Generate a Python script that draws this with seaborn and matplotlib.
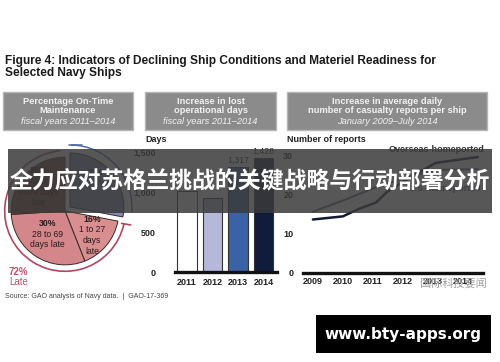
import numpy as np
import pandas as pd
import seaborn as sns
import matplotlib.pyplot as plt
from matplotlib.patches import Rectangle, Arc

# Pie: share of maintenance periods (clockwise from top)
pie_names = ['28%\nOn time', '16%\n1 to 27\ndays\nlate', '30%\n28 to 69\ndays late', '26%\n70 or\nmore days\nlate']
pie_pcts = [28, 16, 30, 26]
pie_colors = ['#7f8db3', '#d98f8f', '#d4878a', '#7b3b3b']

# Bars: lost operational days
bar_years = ['2011', '2012', '2013', '2014']
lost_days = [1010, 925, 1317, 1428]
bar_colors = ['#ffffff', '#b5b8d8', '#3b62a6', '#111c3d']

# Lines: average daily casualty reports per ship
overseas_x = [2009.0, 2010.0, 2010.5, 2011.1, 2011.5, 2012.3, 2013.1, 2014.5]
overseas_y = [13.6, 14.4, 16.2, 17.9, 20.8, 24.6, 28.0, 29.5]
us_x = [2009.0, 2010.1, 2011.1, 2012.2, 2013.1, 2014.5]
us_y = [15.6, 18.7, 21.8, 24.5, 26.2, 26.4]
line_years = [2009, 2010, 2011, 2012, 2013, 2014]

W, H = 500, 362
sns.set_theme(style='white')
plt.rcParams['font.family'] = ['Liberation Sans', 'Noto Sans CJK SC', 'DejaVu Sans']

fig = plt.figure(figsize=(W / 100, H / 100), dpi=100)
fig.patch.set_facecolor('white')


def px_axes(left, top, right, bottom):
    return fig.add_axes([left / W, 1 - bottom / H, (right - left) / W, (bottom - top) / H])


def ftext(x, y, s, **kw):
    return fig.text(x / W, 1 - y / H, s, **kw)


# title
ftext(5, 61, 'Figure 4: Indicators of Declining Ship Conditions and Materiel Readiness for',
      fontsize=8.6, fontweight='bold', color='#1a1a1a', va='center')
ftext(5, 73, 'Selected Navy Ships', fontsize=8.6, fontweight='bold', color='#1a1a1a', va='center')

# header boxes
headers = [
    (3, 133, 'Percentage On-Time', 'Maintenance', 'fiscal years 2011\u20132014'),
    (145, 276, 'Increase in lost', 'operational days', 'fiscal years 2011\u20132014'),
    (287, 487, 'Increase in average daily', 'number of casualty reports per ship', 'January 2009\u2013July 2014'),
]
for x0, x1, l1, l2, l3 in headers:
    fig.add_artist(Rectangle((x0 / W, 1 - 130 / H), (x1 - x0) / W, 38 / H, transform=fig.transFigure,
                             facecolor='#8b8b8b', edgecolor='#b5b5b5', lw=1))
    xc = (x0 + x1) / 2
    ftext(xc, 101, l1, fontsize=6.7, fontweight='bold', color='#f2f2f2', ha='center', va='center')
    ftext(xc, 111, l2, fontsize=6.7, fontweight='bold', color='#f2f2f2', ha='center', va='center')
    ftext(xc, 121, l3, fontsize=6.7, style='italic', color='#f2f2f2', ha='center', va='center')

# ---- pie ----
cx, cy, rp = 65, 211, 70
ax1 = px_axes(cx - rp, cy - rp, cx + rp, cy + rp)
ax1.pie(pie_pcts, colors=pie_colors, startangle=90, counterclock=False,
        explode=[0.12, 0, 0, 0], radius=1,
        wedgeprops=dict(edgecolor='#3a2a2a', linewidth=0.7))
ax1.set_xlim(-1.3, 1.3)
ax1.set_ylim(-1.3, 1.3)
ax1.set_aspect('equal')
ax1.axis('off')
ax1.add_patch(Arc((0, 0), 2.24, 2.24, theta1=95, theta2=348, color='#b4455e', lw=1.2, clip_on=False))
ax1.plot([1.05, 1.22], [-0.23, -0.26], color='#b4455e', lw=1.2, clip_on=False)
ex, ey = 0.12 * np.cos(np.radians(40)), 0.12 * np.sin(np.radians(40))
ax1.add_patch(Arc((ex, ey), 2.3, 2.3, theta1=-5, theta2=89, color='#4a6aa8', lw=1.1, clip_on=False))
ax1.plot([ex - 0.02, ex + 0.22], [ey + 1.15, ey + 1.15], color='#4a6aa8', lw=1.1, clip_on=False)
label_pos = [(0.55, 0.62), (0.5, -0.45), (-0.33, -0.43), (-0.5, 0.45)]
label_cols = ['#2b3f80', '#2a1a1a', '#2a1a1a', '#1a0f0f']
for name, (lx, ly), lc in zip(pie_names, label_pos, label_cols):
    first, rest = name.split('\n', 1)
    n = name.count('\n') + 1
    top = ly + (n - 1) * 0.1
    ax1.text(lx, top, first, ha='center', va='center', fontsize=6.3, fontweight='bold', color=lc)
    for i, ln in enumerate(rest.split('\n')):
        ax1.text(lx, top - 0.2 * (i + 1), ln, ha='center', va='center', fontsize=6.2, color=lc)
ftext(9, 272, '72%', fontsize=7, fontweight='bold', color='#c0506a', va='center')
ftext(9, 282, 'Late', fontsize=7, color='#c0506a', va='center')

# ---- bars ----
ax2 = px_axes(175, 152, 277, 272)
sns.barplot(x=bar_years, y=lost_days, hue=bar_years, palette=bar_colors, legend=False,
            width=0.75, saturation=1, edgecolor='#333333', linewidth=0.8, ax=ax2)
ax2.set_xlim(-0.47, 3.53)
ax2.set_ylim(0, 1500)
for i, v in enumerate(lost_days):
    if v > 1200:
        ax2.text(i, v + 25, f'{v:,}', ha='center', va='bottom', fontsize=6.3, color='#222')
ax2.set_yticks([0, 500, 1000, 1500])
ax2.set_yticklabels(['0', '500', '1,000', '1,500'])
ftext(145, 139, 'Days', fontsize=6.5, fontweight='bold', color='#222', va='center')

# ---- lines ----
ax3 = px_axes(303, 155, 483, 273)
df_lines = pd.DataFrame({
    'year': overseas_x + us_x,
    'reports': overseas_y + us_y,
    'group': ['Overseas-homeported'] * len(overseas_x) + ['U.S.-homeported'] * len(us_x),
})
sns.lineplot(data=df_lines, x='year', y='reports', hue='group', size='group',
             palette={'Overseas-homeported': '#121a33', 'U.S.-homeported': '#55627f'},
             sizes={'Overseas-homeported': 1.8, 'U.S.-homeported': 1.4},
             legend=False, ax=ax3, clip_on=False)
ax3.set_xlim(2008.67, 2014.67)
ax3.set_ylim(0, 30)
ax3.set_xticks(line_years)
ax3.set_xticklabels([str(y) for y in line_years])
ax3.set_yticks([0, 10, 20, 30])
ax3.text(2014.73, 31.3, 'Overseas-homeported', ha='right', va='center', fontsize=6.5,
         fontweight='bold', color='#333')
ax3.text(2014.6, 21.5, 'U.S.-homeported', ha='right', va='center', fontsize=6.5,
         fontweight='bold', color='#55627f')
ftext(287, 139, 'Number of reports', fontsize=6.5, fontweight='bold', color='#222', va='center')

for ax in (ax2, ax3):
    ax.set_xlabel('')
    ax.set_ylabel('')
    ax.patch.set_alpha(0)
    for s in ('top', 'right', 'left'):
        ax.spines[s].set_visible(False)
    ax.spines['bottom'].set_linewidth(2.4)
    ax.spines['bottom'].set_color('#111')
    ax.tick_params(axis='both', length=0, labelsize=6.5, colors='#222')
    for t in ax.get_xticklabels() + ax.get_yticklabels():
        t.set_fontweight('bold')
ax2.tick_params(axis='y', pad=14)
ax3.tick_params(axis='y', pad=7)
ax2.tick_params(axis='x', pad=4)
ax3.tick_params(axis='x', pad=3)

# source
ftext(5, 297, 'Source: GAO analysis of Navy data.  |  GAO-17-369', fontsize=5, color='#444', va='center')

# watermark
ftext(487, 283, '国际科技要闻', fontsize=8, color='#a0a0a0', ha='right', va='center', zorder=9,
      family=['Noto Sans CJK SC', 'DejaVu Sans'])

# overlay banner
fig.add_artist(Rectangle((8 / W, 1 - 213 / H), 484 / W, 64 / H, transform=fig.transFigure,
                         facecolor='#3a3a3a', alpha=0.85, edgecolor='none', zorder=10))
ftext(250, 182, '全力应对苏格兰挑战的关键战略与行动部署分析', fontsize=16.5, fontweight='bold',
      color='white', ha='center', va='center', zorder=11, family=['Noto Sans CJK SC', 'DejaVu Sans'])

# bottom url box
fig.add_artist(Rectangle((316 / W, 1 - 353 / H), 175 / W, 38 / H, transform=fig.transFigure,
                         facecolor='black', edgecolor='none', zorder=10))
ftext(403, 334, 'www.bty-apps.org', fontsize=11, fontweight='bold', color='white',
      ha='center', va='center', zorder=11, family=['DejaVu Sans'])

fig.savefig('out.png', dpi=100)
